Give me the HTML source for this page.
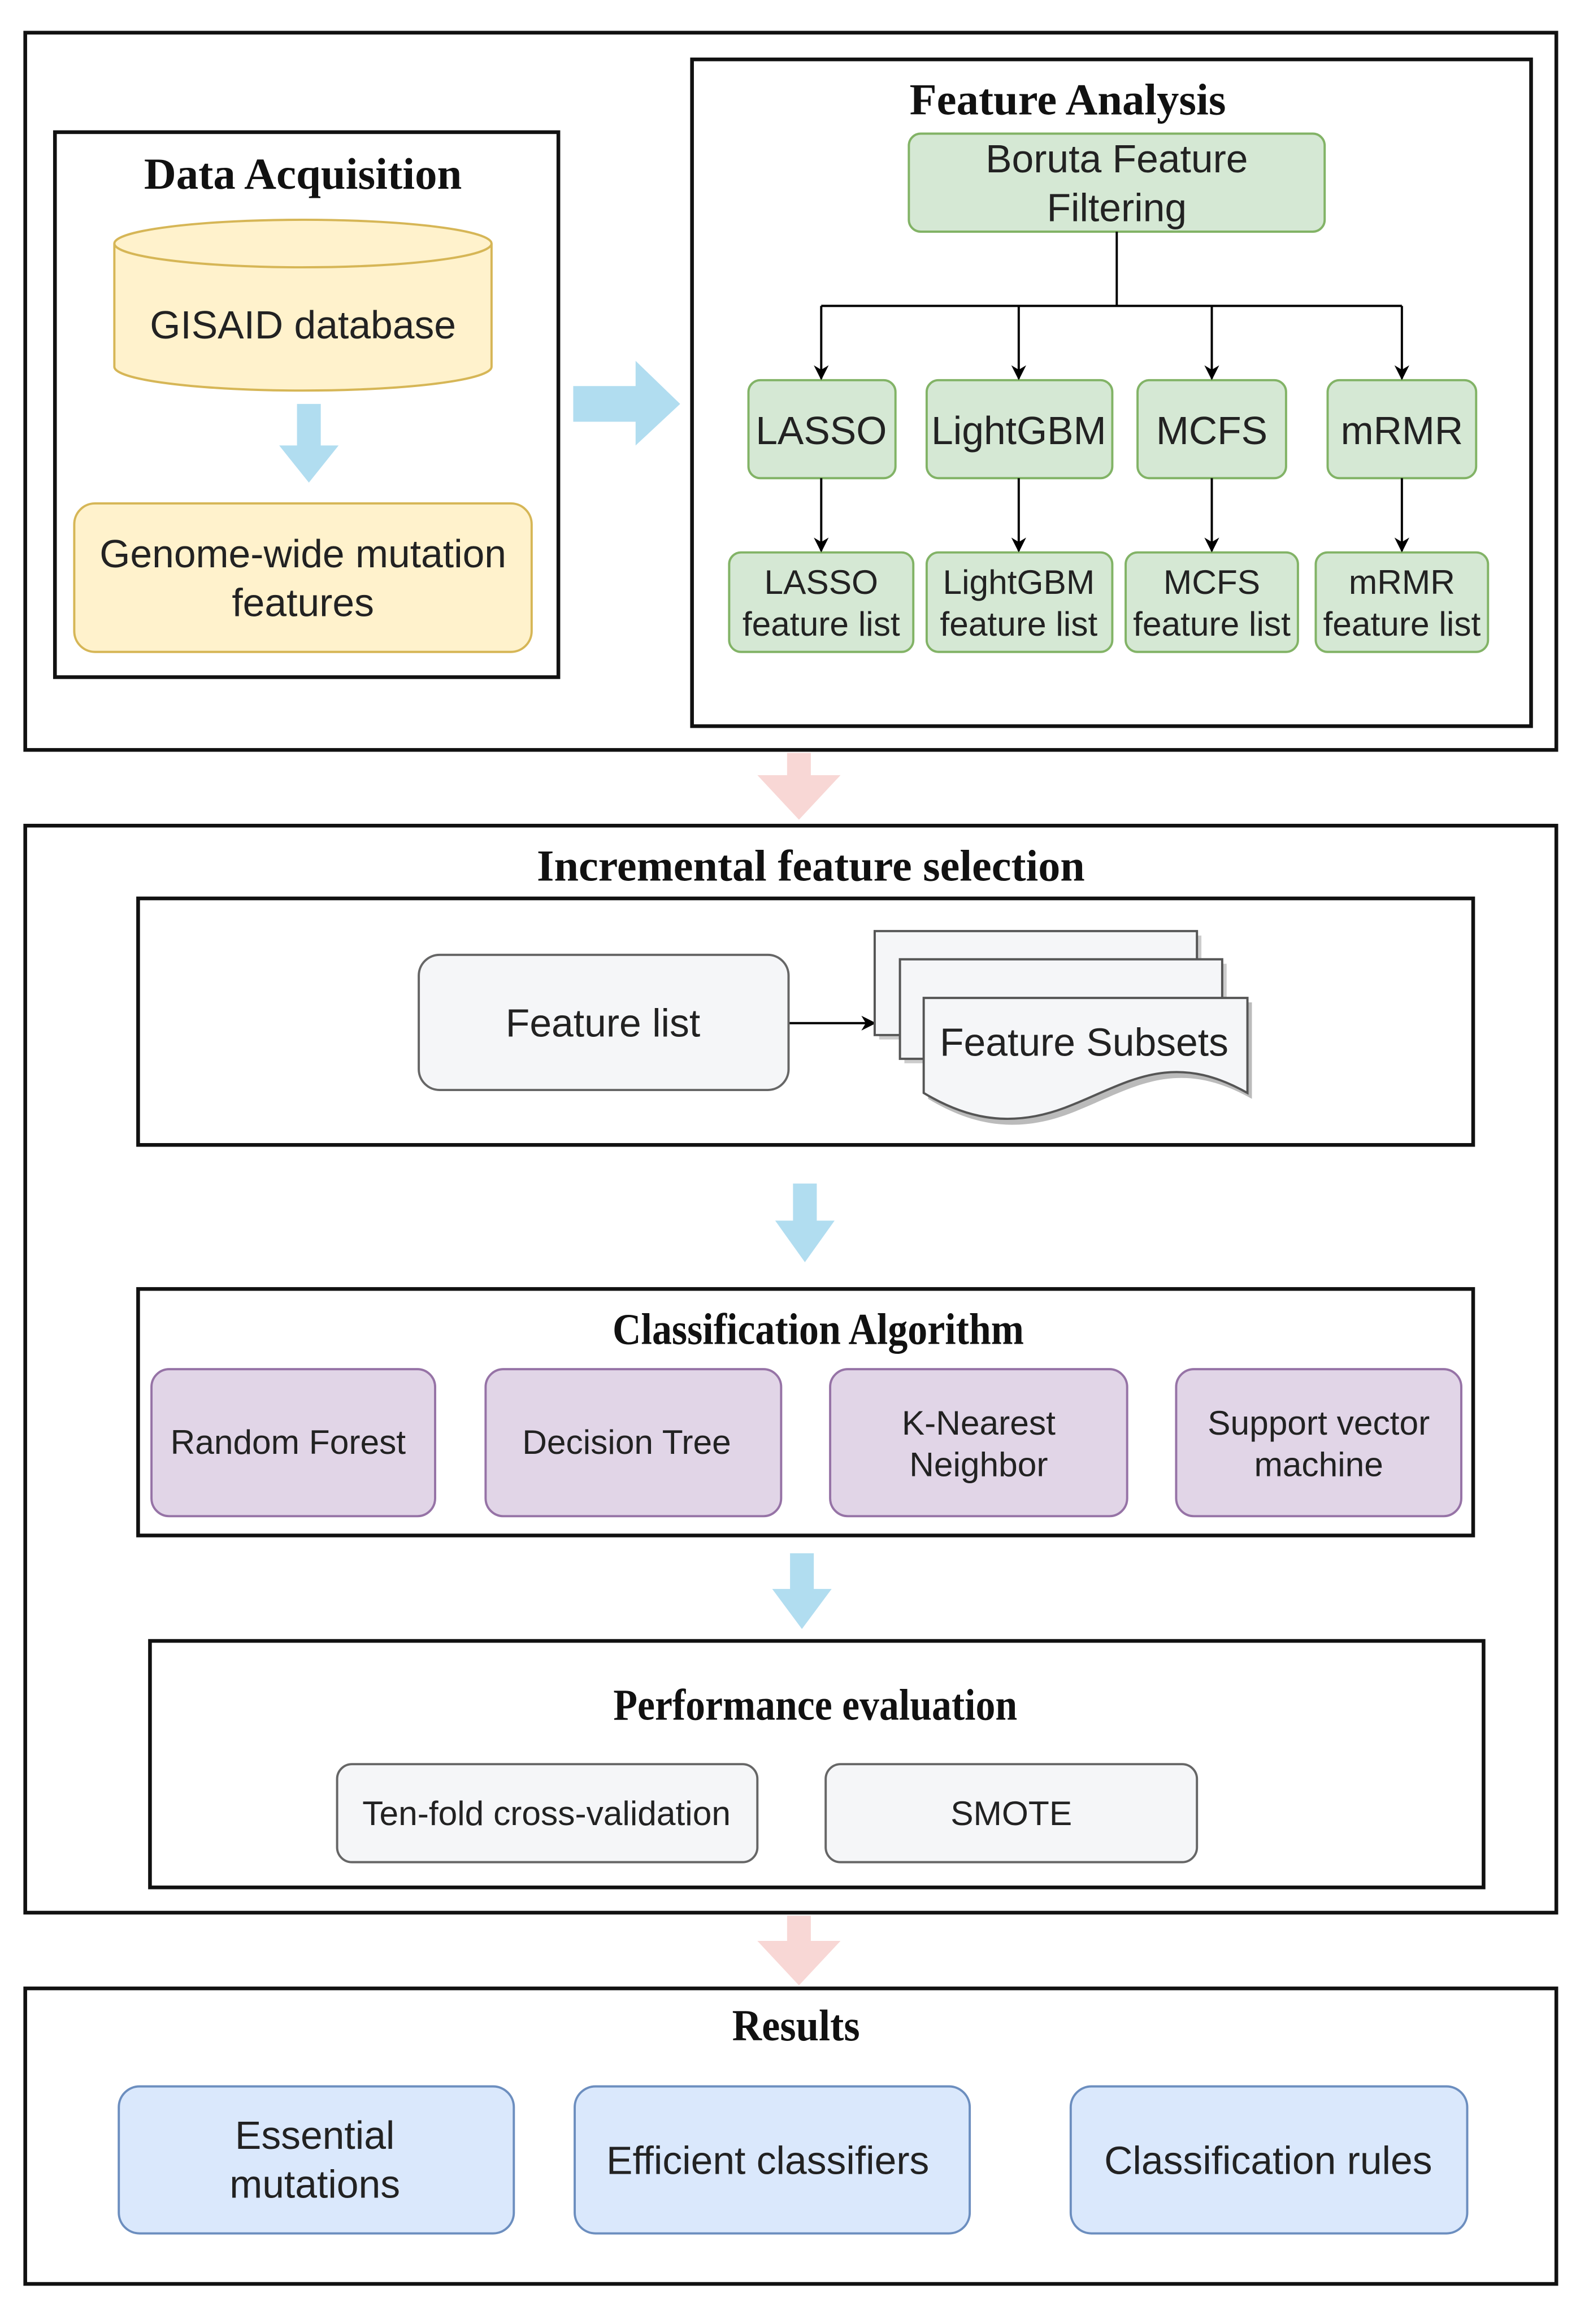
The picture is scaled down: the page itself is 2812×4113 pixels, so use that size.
<!DOCTYPE html>
<html><head><meta charset="utf-8"><style>html,body{margin:0;padding:0;background:#fff}svg{display:block}</style></head><body>
<svg width="2812" height="4113" viewBox="0 0 1070 1565" preserveAspectRatio="none" xmlns="http://www.w3.org/2000/svg">
<defs>
<marker id="ah" markerWidth="10" markerHeight="10" refX="9" refY="5" orient="auto" markerUnits="userSpaceOnUse"><path d="M0,0 L10,5 L0,10 L3,5 Z" fill="#000"/></marker>
</defs>
<g font-family="Liberation Serif, serif" font-weight="bold" font-size="30" fill="#111" text-anchor="middle">
<text x="204" y="127" textLength="214" lengthAdjust="spacingAndGlyphs">Data Acquisition</text>
<text x="719" y="77" textLength="213" lengthAdjust="spacingAndGlyphs">Feature Analysis</text>
<text x="546" y="593" textLength="369" lengthAdjust="spacingAndGlyphs">Incremental feature selection</text>
<text x="551" y="905" textLength="277" lengthAdjust="spacingAndGlyphs">Classification Algorithm</text>
<text x="549" y="1158" textLength="272" lengthAdjust="spacingAndGlyphs">Performance evaluation</text>
<text x="536" y="1374" textLength="86" lengthAdjust="spacingAndGlyphs">Results</text>
</g>
<g fill="none" stroke="#111" stroke-width="2.5">
<rect x="17" y="22" width="1031" height="483"/>
<rect x="37" y="89" width="339" height="367"/>
<rect x="466" y="40" width="565" height="449"/>
<rect x="17" y="556" width="1031" height="732"/>
<rect x="93" y="605" width="899" height="166"/>
<rect x="93" y="868" width="899" height="166"/>
<rect x="101" y="1105" width="898" height="166"/>
<rect x="17" y="1339" width="1031" height="199"/>
</g>
<path d="M77,164 L77,247 A127,16 0 0 0 331,247 L331,164" fill="#fff2cc" stroke="#d6b656" stroke-width="1.5"/>
<ellipse cx="204" cy="164" rx="127" ry="16" fill="#fff2cc" stroke="#d6b656" stroke-width="1.5"/>
<rect x="50" y="339" width="308" height="100" rx="14" fill="#fff2cc" stroke="#d6b656" stroke-width="1.5"/>
<g fill="#b1ddf0">
<path d="M200,272 L216,272 L216,300 L228,300 L208,325 L188,300 L200,300 Z"/>
<path d="M386,260 L428,260 L428,243 L458,272 L428,300 L428,284 L386,284 Z"/>
<path d="M534,797 L550,797 L550,822 L562,822 L542,850 L522,822 L534,822 Z"/>
<path d="M532,1046 L548,1046 L548,1070 L560,1070 L540,1097 L520,1070 L532,1070 Z"/>
</g>
<g fill="#f8d7d5">
<path d="M530,507 L546,507 L546,522 L566,522 L538,552 L510,522 L530,522 Z"/>
<path d="M530,1290 L546,1290 L546,1307 L566,1307 L538,1337 L510,1307 L530,1307 Z"/>
</g>
<g fill="#d5e8d4" stroke="#82b366" stroke-width="1.5">
<rect x="612" y="90" width="280" height="66" rx="8"/>
<rect x="504" y="256" width="99" height="66" rx="8"/>
<rect x="624" y="256" width="125" height="66" rx="8"/>
<rect x="766" y="256" width="100" height="66" rx="8"/>
<rect x="894" y="256" width="100" height="66" rx="8"/>
<rect x="491" y="372" width="124" height="67" rx="8"/>
<rect x="624" y="372" width="125" height="67" rx="8"/>
<rect x="758" y="372" width="116" height="67" rx="8"/>
<rect x="886" y="372" width="116" height="67" rx="8"/>
</g>
<g stroke="#000" stroke-width="1.5" fill="none">
<path d="M752,156 L752,206 M553,206 L944,206"/>
<path d="M553,206 L553,255" marker-end="url(#ah)"/>
<path d="M686,206 L686,255" marker-end="url(#ah)"/>
<path d="M816,206 L816,255" marker-end="url(#ah)"/>
<path d="M944,206 L944,255" marker-end="url(#ah)"/>
<path d="M553,322 L553,371" marker-end="url(#ah)"/>
<path d="M686,322 L686,371" marker-end="url(#ah)"/>
<path d="M816,322 L816,371" marker-end="url(#ah)"/>
<path d="M944,322 L944,371" marker-end="url(#ah)"/>
<path d="M531,689 L589,689" marker-end="url(#ah)"/>
</g>
<g fill="#f5f6f8" stroke="#666" stroke-width="1.5">
<rect x="282" y="643" width="249" height="91" rx="14"/>
<rect x="227" y="1188" width="283" height="66" rx="10"/>
<rect x="556" y="1188" width="250" height="66" rx="10"/>
</g>
<g fill="#f5f6f8" stroke="#555" stroke-width="1.5">
<path d="M592,630 L809,630 L809,700 L592,700 Z" fill="#ccc" stroke="none"/>
<path d="M589,627 L806,627 L806,697 L589,697 Z"/>
<path d="M609,649 L826,649 L826,716 L609,716 Z" fill="#ccc" stroke="none"/>
<path d="M606,646 L823,646 L823,713 L606,713 Z"/>
<path d="M625,675 L843,675 L843,740 C790,710 760,735 720,750 C680,765 650,755 625,740 Z" fill="#bbb" stroke="none"/>
<path d="M622,672 L840,672 L840,736 C787,706 757,731 717,746 C677,761 647,751 622,736 Z"/>
</g>
<g fill="#e1d5e7" stroke="#9673a6" stroke-width="1.5">
<rect x="102" y="922" width="191" height="99" rx="12"/>
<rect x="327" y="922" width="199" height="99" rx="12"/>
<rect x="559" y="922" width="200" height="99" rx="12"/>
<rect x="792" y="922" width="192" height="99" rx="12"/>
</g>
<g fill="#dae8fc" stroke="#6c8ebf" stroke-width="1.5">
<rect x="80" y="1405" width="266" height="99" rx="14"/>
<rect x="387" y="1405" width="266" height="99" rx="14"/>
<rect x="721" y="1405" width="267" height="99" rx="14"/>
</g>
<g font-family="Liberation Sans, sans-serif" fill="#222" text-anchor="middle">
<g font-size="26.5">
<text x="204" y="228">GISAID database</text>
<text x="204" y="382">Genome-wide mutation</text>
<text x="204" y="415">features</text>
<text x="752" y="116">Boruta Feature</text>
<text x="752" y="149">Filtering</text>
<text x="553" y="299">LASSO</text>
<text x="686" y="299">LightGBM</text>
<text x="816" y="299">MCFS</text>
<text x="944" y="299">mRMR</text>
<text x="406" y="698">Feature list</text>
<text x="730" y="711">Feature Subsets</text>
<text x="212" y="1447">Essential</text>
<text x="212" y="1480">mutations</text>
<text x="517" y="1464">Efficient classifiers</text>
<text x="854" y="1464">Classification rules</text>
</g>
<g font-size="23">
<text x="553" y="400">LASSO</text><text x="553" y="428">feature list</text>
<text x="686" y="400">LightGBM</text><text x="686" y="428">feature list</text>
<text x="816" y="400">MCFS</text><text x="816" y="428">feature list</text>
<text x="944" y="400">mRMR</text><text x="944" y="428">feature list</text>
<text x="194" y="979">Random Forest</text>
<text x="422" y="979">Decision Tree</text>
<text x="659" y="966">K-Nearest</text><text x="659" y="994">Neighbor</text>
<text x="888" y="966">Support vector</text><text x="888" y="994">machine</text>
<text x="368" y="1229">Ten-fold cross-validation</text>
<text x="681" y="1229">SMOTE</text>
</g>
</g>
</svg>
</body></html>
